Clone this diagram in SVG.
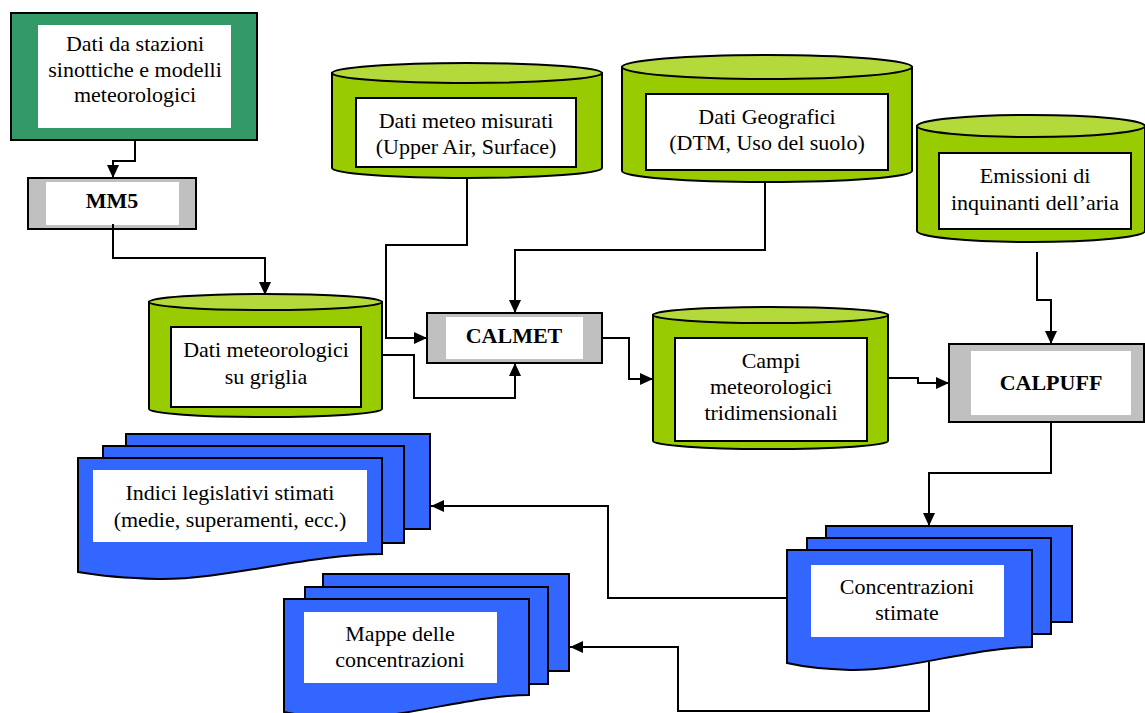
<svg xmlns="http://www.w3.org/2000/svg" width="1145" height="713" viewBox="0 0 1145 713">
<defs>
<style>
.t{font-family:"Liberation Serif","Times New Roman",serif;font-size:22px;fill:#000;text-anchor:middle}
.b{font-weight:bold}
.ol{stroke:#000;stroke-width:2}
.green{fill:#339966}
.gray{fill:#c0c0c0}
.cyl{fill:#99cc00;stroke:#000;stroke-width:2}
.cyltop{fill:#b3d93b;stroke:#000;stroke-width:2}
.wb{fill:#fff;stroke:#000;stroke-width:2}
.w{fill:#fff}
.doc{fill:#3366ff;stroke:#000;stroke-width:2}
.c{fill:none;stroke:#000;stroke-width:2}
</style>
<marker id="ar" markerUnits="userSpaceOnUse" markerWidth="14" markerHeight="14" viewBox="0 0 14 14" refX="13" refY="7" orient="auto">
<path d="M0,1 L13,7 L0,13 Z" fill="#000"/>
</marker>
</defs>

<g id="n-stazioni">
<rect x="11" y="13" width="246" height="127" class="green ol"/>
<rect x="38" y="25" width="193" height="103" class="w"/>
<text class="t" x="135" y="51">Dati da stazioni</text>
<text class="t" x="135" y="77">sinottiche e modelli</text>
<text class="t" x="135" y="102">meteorologici</text>
</g>

<g id="n-mm5">
<rect x="28" y="178" width="168" height="51" class="gray ol"/>
<rect x="46" y="182" width="133" height="43" class="w"/>
<text class="t b" x="112" y="208">MM5</text>
</g>

<g id="n-misurati">
<path d="M332,73 V168 A135,10 0 0 0 602,168 V73 Z" class="cyl"/>
<ellipse cx="467" cy="73" rx="135" ry="10" class="cyltop"/>
<rect x="356" y="98" width="220" height="69" class="wb"/>
<text class="t" x="466" y="128">Dati meteo misurati</text>
<text class="t" x="466" y="154">(Upper Air, Surface)</text>
</g>

<g id="n-geografici">
<path d="M622,67 V171 A145,11 0 0 0 912,171 V67 Z" class="cyl"/>
<ellipse cx="767" cy="67" rx="145" ry="12" class="cyltop"/>
<rect x="646" y="94" width="242" height="76" class="wb"/>
<text class="t" x="767" y="124">Dati Geografici</text>
<text class="t" x="767" y="150">(DTM, Uso del suolo)</text>
</g>

<g id="n-emissioni">
<path d="M917,126 V231 A114,11 0 0 0 1145,231 V126 Z" class="cyl"/>
<ellipse cx="1031" cy="126" rx="114" ry="11" class="cyltop"/>
<rect x="939" y="153" width="192" height="76" class="wb"/>
<text class="t" x="1035" y="183">Emissioni di</text>
<text class="t" x="1035" y="210">inquinanti dell’aria</text>
</g>

<g id="n-griglia">
<path d="M149,302 V409 A116.5,8 0 0 0 382,409 V302 Z" class="cyl"/>
<ellipse cx="265.5" cy="302" rx="116.5" ry="8" class="cyltop"/>
<rect x="171" y="327" width="190" height="80" class="wb"/>
<text class="t" x="266" y="357">Dati meteorologici</text>
<text class="t" x="266" y="384">su griglia</text>
</g>

<g id="n-calmet">
<rect x="427" y="313" width="175" height="50" class="gray ol"/>
<rect x="446" y="317" width="137" height="42" class="w"/>
<text class="t b" x="514" y="343">CALMET</text>
</g>

<g id="n-campi">
<path d="M653,315 V441 A117.5,8 0 0 0 888,441 V315 Z" class="cyl"/>
<ellipse cx="770.5" cy="315" rx="117.5" ry="8" class="cyltop"/>
<rect x="675" y="338" width="192" height="103" class="wb"/>
<text class="t" x="771" y="368">Campi</text>
<text class="t" x="771" y="394">meteorologici</text>
<text class="t" x="771" y="420">tridimensionali</text>
</g>

<g id="n-calpuff">
<rect x="949" y="344" width="195" height="78" class="gray ol"/>
<rect x="971" y="351" width="160" height="64" class="w"/>
<text class="t b" x="1051" y="390">CALPUFF</text>
</g>

<g id="n-concentrazioni">
<rect x="826" y="526" width="246" height="96" class="doc"/>
<rect x="807" y="538" width="244" height="96" class="doc"/>
<path d="M787,550 H1032 V647 C975,647 905,671 850,670 C820,669 800,666 787,663 Z" class="doc"/>
<rect x="811" y="565" width="193" height="72" class="w"/>
<text class="t" x="907" y="594">Concentrazioni</text>
<text class="t" x="907" y="620">stimate</text>
</g>

<g id="n-indici">
<rect x="126" y="434" width="304" height="95" class="doc"/>
<rect x="103" y="446" width="301" height="97" class="doc"/>
<path d="M78,458 H382 V554 C310,554 225,580 158,579 C120,578 95,575 78,572 Z" class="doc"/>
<rect x="93" y="470" width="274" height="72" class="w"/>
<text class="t" x="230" y="500">Indici legislativi stimati</text>
<text class="t" x="230" y="527">(medie, superamenti, ecc.)</text>
</g>

<g id="n-mappe">
<rect x="323" y="574" width="246" height="97" class="doc"/>
<rect x="305" y="587" width="243" height="97" class="doc"/>
<path d="M284,599 H529 V695 C472,695 402,719 347,718 C317,717 297,715 284,712 Z" class="doc"/>
<rect x="304" y="612" width="193" height="71" class="w"/>
<text class="t" x="400" y="641">Mappe delle</text>
<text class="t" x="400" y="667">concentrazioni</text>
</g>

<g id="connectors">
<path d="M135,140 V161 H113 V178" class="c" marker-end="url(#ar)"/>
<path d="M113,224 V258 H265 V295" class="c" marker-end="url(#ar)"/>
<path d="M467,178 V245 H386 V338 H427" class="c" marker-end="url(#ar)"/>
<path d="M765,183 V250 H515 V313" class="c" marker-end="url(#ar)"/>
<path d="M382,355 H414 V398 H515 V363" class="c" marker-end="url(#ar)"/>
<path d="M602,338 H629 V379 H653" class="c" marker-end="url(#ar)"/>
<path d="M888,378 H918 V383 H949" class="c" marker-end="url(#ar)"/>
<path d="M1037,252 V300 H1051 V344" class="c" marker-end="url(#ar)"/>
<path d="M1051,422 V473 H929 V526" class="c" marker-end="url(#ar)"/>
<path d="M787,598 H608 V506 H431" class="c" marker-end="url(#ar)"/>
<path d="M929,662 V711 H678 V647 H570" class="c" marker-end="url(#ar)"/>
</g>
</svg>
